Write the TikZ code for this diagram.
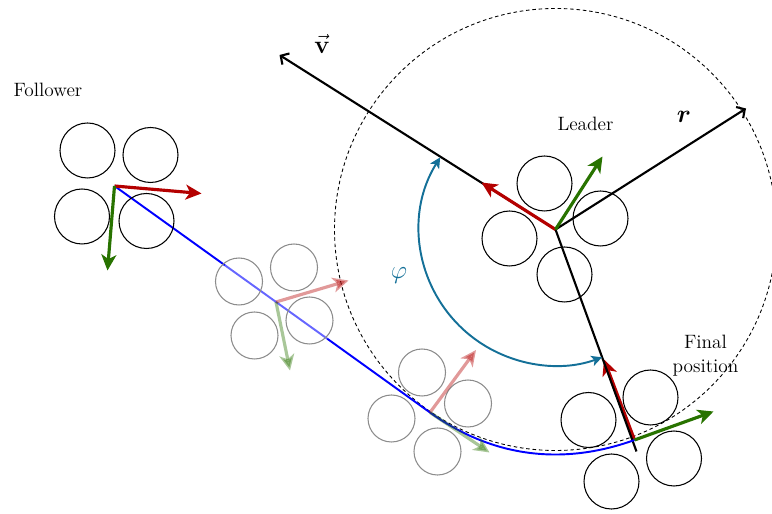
\documentclass[tikz,border=0pt]{standalone}
\usepackage{amsmath}
\usetikzlibrary{arrows.meta,calc}
\definecolor{headred}{RGB}{180,0,0}
\definecolor{sidegreen}{RGB}{40,115,0}
\definecolor{anglecol}{RGB}{20,112,152}

\begin{document}
\begin{tikzpicture}[>={Straight Barb[length=3.5pt,width=7.5pt]},
        font=\fontsize{11}{13.6}\selectfont,
        wheel/.style={draw,circle,line width=0.6pt,minimum size=1.1cm,inner sep=0pt},
        ghostwheel/.style={draw=black!45,circle,line width=0.6pt,minimum size=0.94cm,inner sep=0pt},
        heading/.style={line width=1.8pt,headred,-{Stealth[length=9pt,width=8.5pt,inset=2.5pt]}},
        lateral/.style={heading,sidegreen},
        faded/.style={opacity=0.4},
        track/.style={blue,line width=1.1pt},
        symbol/.style={font=\fontsize{14}{17}\selectfont},
        anglearc/.style={anglecol,line width=1.1pt,{Stealth[length=6pt,width=6pt,inset=1.5pt]}-{Stealth[length=6pt,width=6pt,inset=1.5pt]}}]
            \useasboundingbox (0,0) rectangle (15.44,10.28);
            % robot centres
            \coordinate (F) at (2.29,6.56);
            \coordinate (G1) at (5.52,4.24);
            \coordinate (G2) at (8.60,2.03);
            \coordinate (L) at (11.11,5.69);
            \coordinate (E) at (12.69,1.48);
            % arrow ends
            \coordinate (Fh) at (4.03,6.41);
            \coordinate (Fs) at (2.15,4.87);
            \coordinate (G1h) at (6.97,4.67);
            \coordinate (G1s) at (5.80,2.87);
            \coordinate (G2h) at (9.52,3.28);
            \coordinate (G2s) at (9.79,1.23);
            \coordinate (Lh) at (9.63,6.63);
            \coordinate (Ls) at (12.05,7.15);
            \coordinate (Eh) at (12.08,3.09);
            \coordinate (Es) at (14.27,2.05);
            \coordinate (vtip) at (5.59,9.18);
            \coordinate (rtip) at (14.92,8.11);
            \coordinate (lend) at (12.73,1.25);

            \node[draw,circle,line width=0.5pt,dash pattern=on 2pt off 1.6pt,minimum size=8.84cm,inner sep=0pt] (range) at (L) {};

            % final robot
            \node[wheel] (e1) at (13.01,2.33) {};
            \node[wheel] (e2) at (11.77,1.88) {};
            \node[wheel] (e3) at (13.48,1.11) {};
            \node[wheel] (e4) at (12.23,0.65) {};
            \draw[heading] (E) -- (Eh);

            \draw[very thick,->] (L) -- (vtip);
            \draw[very thick,->] (L) -- (rtip);
            \draw[very thick] (L) -- (lend);
            \draw[anglearc] ($(L)+(148:2.72)$) arc[start angle=148,end angle=290,radius=2.72];

            \draw[track] (F) -- (G2) .. controls +(1.2,-0.86) and +(-1.5,-0.54) .. (E);
            \fill[white,fill opacity=0.4] (G1) circle[radius=1.26];

            % faded robots
            \node[ghostwheel] (a1) at (4.78,4.65) {};
            \node[ghostwheel] (a2) at (5.88,4.93) {};
            \node[ghostwheel] (a3) at (5.09,3.57) {};
            \node[ghostwheel] (a4) at (6.19,3.87) {};
            \draw[heading,faded] (G1) -- (G1h);
            \draw[lateral,faded] (G1) -- (G1s);
            \node[ghostwheel] (b1) at (8.44,2.83) {};
            \node[ghostwheel] (b2) at (9.36,2.21) {};
            \node[ghostwheel] (b3) at (7.83,1.91) {};
            \node[ghostwheel] (b4) at (8.75,1.25) {};
            \draw[heading,faded] (G2) -- (G2h);
            \draw[lateral,faded] (G2) -- (G2s);

            % follower
            \node[wheel] (f1) at (1.75,7.27) {};
            \node[wheel] (f2) at (3.01,7.18) {};
            \node[wheel] (f3) at (1.64,5.95) {};
            \node[wheel] (f4) at (2.93,5.86) {};
            \draw[heading] (F) -- (Fh);
            \draw[lateral] (F) -- (Fs);

            % leader
            \node[wheel] (l1) at (10.89,6.61) {};
            \node[wheel] (l2) at (12.01,5.91) {};
            \node[wheel] (l3) at (10.19,5.51) {};
            \node[wheel] (l4) at (11.29,4.79) {};
            \draw[heading] (L) -- (Lh);
            \draw[lateral] (L) -- (Ls);
            \draw[lateral] (E) -- (Es);

            \node (follower) at (0.96,8.48) {Follower};
            \node (leader) at (11.71,7.81) {Leader};
            \node[align=center] (final) at (14.11,3.16) {Final\\position};
            \node[symbol] (vlabel) at (6.44,9.40) {$\vec{\mathbf{v}}$};
            \node[symbol] (rlabel) at (13.68,7.94) {$\boldsymbol{r}$};
            \node[symbol,anglecol] (philabel) at (7.98,4.76) {$\varphi$};
        \end{tikzpicture}
\end{document}
